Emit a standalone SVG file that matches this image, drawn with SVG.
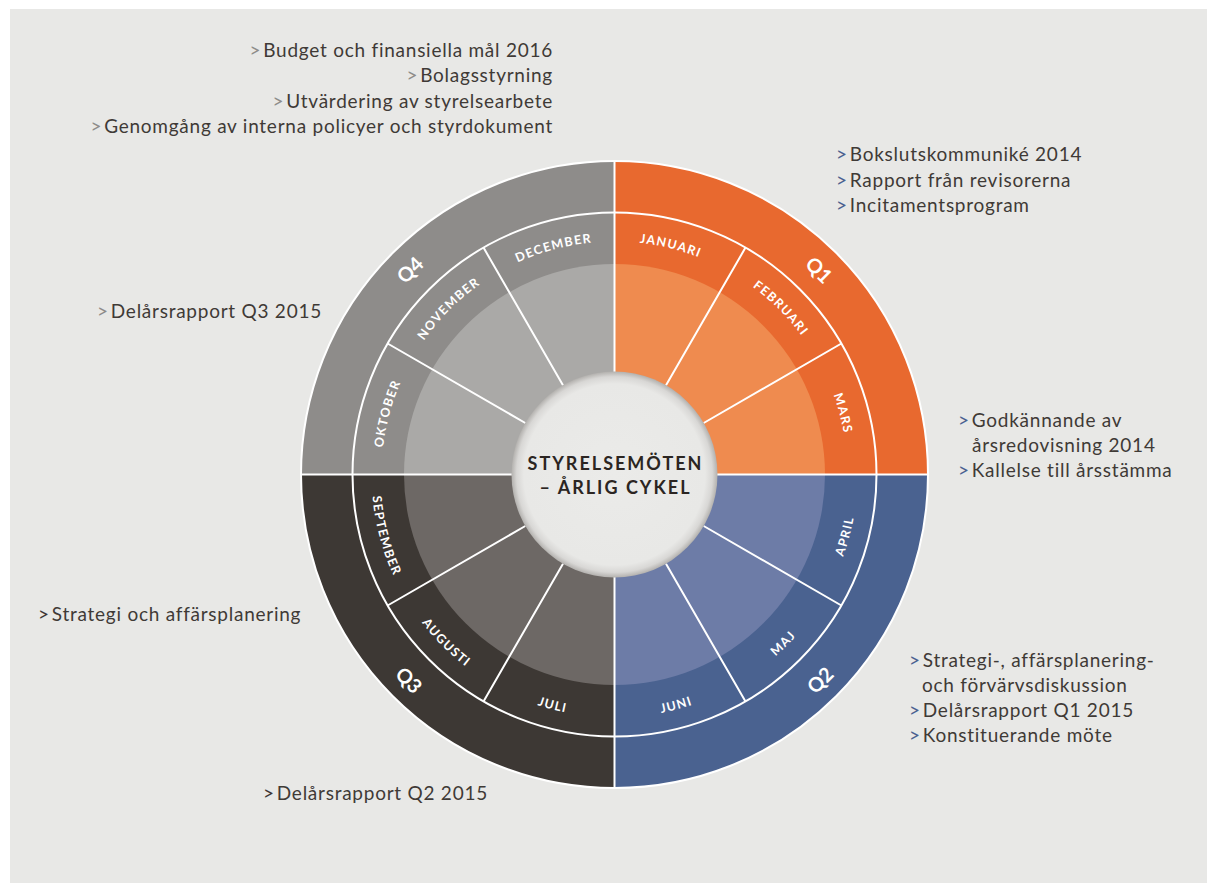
<svg xmlns="http://www.w3.org/2000/svg" width="1209" height="883" viewBox="0 0 1209 883">
<defs>
<style>
.note{font-family:Lato,"Noto Sans",sans-serif;font-size:19px;fill:#3f3a36;letter-spacing:0.75px;}
.bb{fill:#4a6290;}
.bg{fill:#8e8c8a;}
.bd{fill:#3d3834;}
.mon{font-family:Lato,"Noto Sans",sans-serif;font-size:12.5px;font-weight:bold;fill:#ffffff;letter-spacing:1.3px;}
.ql{font-family:Lato,"Noto Sans",sans-serif;font-size:20px;font-weight:bold;fill:#ffffff;}
.ctr{font-family:Lato,"Noto Sans",sans-serif;font-size:18px;font-weight:bold;fill:#2b2522;letter-spacing:2px;}
.div{stroke:#ffffff;stroke-width:2;fill:none;}
</style>
<radialGradient id="hub" cx="0.5" cy="0.5" r="0.5">
<stop offset="0" stop-color="#ebebe9"/>
<stop offset="0.88" stop-color="#e8e8e6"/>
<stop offset="0.95" stop-color="#d8d7d5"/>
<stop offset="1" stop-color="#b3b1ae"/>
</radialGradient>
<path id="pJan" d="M614.5,241.5 A233,233 0 0 1 731,272.72"/>
<path id="pFeb" d="M731,272.72 A233,233 0 0 1 816.28,358"/>
<path id="pMar" d="M816.28,358 A233,233 0 0 1 847.5,474.5"/>
<path id="pOkt" d="M381.5,474.5 A233,233 0 0 1 412.72,358"/>
<path id="pNov" d="M412.72,358 A233,233 0 0 1 498,272.72"/>
<path id="pDec" d="M498,272.72 A233,233 0 0 1 614.5,241.5"/>
<path id="pApr" d="M824.94,596 A243,243 0 0 0 857.5,474.5"/>
<path id="pMaj" d="M736,684.94 A243,243 0 0 0 824.94,596"/>
<path id="pJun" d="M614.5,717.5 A243,243 0 0 0 736,684.94"/>
<path id="pJul" d="M493,684.94 A243,243 0 0 0 614.5,717.5"/>
<path id="pAug" d="M404.06,596 A243,243 0 0 0 493,684.94"/>
<path id="pSep" d="M371.5,474.5 A243,243 0 0 0 404.06,596"/>
</defs>

<rect x="0" y="0" width="1209" height="883" fill="#ffffff"/>
<rect id="panel" x="10" y="9" width="1197" height="874" fill="#e8e8e6"/>

<g id="q1">
<path d="M614.5,474.5 L614.5,161 A313.5,313.5 0 0 1 928,474.5 Z" fill="#e8692f"/>
<path d="M614.5,474.5 L614.5,264 A210.5,210.5 0 0 1 825,474.5 Z" fill="#ef8b4f"/>
<text class="ql" x="819.6" y="269.4" text-anchor="middle" dominant-baseline="central" transform="rotate(45 819.6 269.4)">Q1</text>
</g>
<g id="q2">
<path d="M614.5,474.5 L928,474.5 A313.5,313.5 0 0 1 614.5,788 Z" fill="#4a6290"/>
<path d="M614.5,474.5 L825,474.5 A210.5,210.5 0 0 1 614.5,685 Z" fill="#6d7ca7"/>
<text class="ql" x="819.6" y="679.6" text-anchor="middle" dominant-baseline="central" transform="rotate(-45 819.6 679.6)">Q2</text>
</g>
<g id="q3">
<path d="M614.5,474.5 L614.5,788 A313.5,313.5 0 0 1 301,474.5 Z" fill="#3d3834"/>
<path d="M614.5,474.5 L614.5,685 A210.5,210.5 0 0 1 404,474.5 Z" fill="#6d6865"/>
<text class="ql" x="409.4" y="679.6" text-anchor="middle" dominant-baseline="central" transform="rotate(45 409.4 679.6)">Q3</text>
</g>
<g id="q4">
<path d="M614.5,474.5 L301,474.5 A313.5,313.5 0 0 1 614.5,161 Z" fill="#8e8c8a"/>
<path d="M614.5,474.5 L404,474.5 A210.5,210.5 0 0 1 614.5,264 Z" fill="#aaa9a7"/>
<text class="ql" x="409.4" y="269.4" text-anchor="middle" dominant-baseline="central" transform="rotate(-45 409.4 269.4)">Q4</text>
</g>

<g id="dividers">
<circle class="div" cx="614.5" cy="474.5" r="313.5" stroke-width="1.5"/>
<circle class="div" cx="614.5" cy="474.5" r="262" stroke-width="1.5"/>
<path class="div" d="M614.5,161 V788 M301,474.5 H928"/>
<path class="div" d="M666,385.3 L745.5,247.6 M703.7,423 L841.4,343.5 M703.7,526 L841.4,605.5 M666,563.7 L745.5,701.4 M563,563.7 L483.5,701.4 M525.3,526 L387.6,605.5 M525.3,423 L387.6,343.5 M563,385.3 L483.5,247.6"/>
</g>

<g id="months">
<g id="m-jan"><text class="mon" text-anchor="middle"><textPath href="#pJan" startOffset="46%">JANUARI</textPath></text></g>
<g id="m-feb"><text class="mon" text-anchor="middle"><textPath href="#pFeb" startOffset="50%">FEBRUARI</textPath></text></g>
<g id="m-mar"><text class="mon" text-anchor="middle"><textPath href="#pMar" startOffset="50%">MARS</textPath></text></g>
<g id="m-apr"><text class="mon" text-anchor="middle"><textPath href="#pApr" startOffset="50%">APRIL</textPath></text></g>
<g id="m-maj"><text class="mon" text-anchor="middle"><textPath href="#pMaj" startOffset="50%">MAJ</textPath></text></g>
<g id="m-jun"><text class="mon" text-anchor="middle"><textPath href="#pJun" startOffset="50%">JUNI</textPath></text></g>
<g id="m-jul"><text class="mon" text-anchor="middle"><textPath href="#pJul" startOffset="50%">JULI</textPath></text></g>
<g id="m-aug"><text class="mon" text-anchor="middle"><textPath href="#pAug" startOffset="50%">AUGUSTI</textPath></text></g>
<g id="m-sep"><text class="mon" text-anchor="middle"><textPath href="#pSep" startOffset="50%">SEPTEMBER</textPath></text></g>
<g id="m-okt"><text class="mon" text-anchor="middle"><textPath href="#pOkt" startOffset="50%">OKTOBER</textPath></text></g>
<g id="m-nov"><text class="mon" text-anchor="middle"><textPath href="#pNov" startOffset="50%">NOVEMBER</textPath></text></g>
<g id="m-dec"><text class="mon" text-anchor="middle"><textPath href="#pDec" startOffset="50%">DECEMBER</textPath></text></g>
</g>

<g id="center">
<circle cx="614.5" cy="474.5" r="103" fill="url(#hub)"/>
<text class="ctr" x="615.5" y="469.5" text-anchor="middle">STYRELSEMÖTEN</text>
<text class="ctr" x="615.5" y="493.5" text-anchor="middle">– ÅRLIG CYKEL</text>
</g>

<g id="notes-q4">
<text class="note" x="553" y="57" text-anchor="end"><tspan class="bg">&gt;</tspan><tspan dx="2">Budget och finansiella mål 2016</tspan></text>
<text class="note" x="553" y="82" text-anchor="end"><tspan class="bg">&gt;</tspan><tspan dx="2">Bolagsstyrning</tspan></text>
<text class="note" x="553" y="108" text-anchor="end"><tspan class="bg">&gt;</tspan><tspan dx="2">Utvärdering av styrelsearbete</tspan></text>
<text class="note" x="553" y="133" text-anchor="end"><tspan class="bg">&gt;</tspan><tspan dx="2">Genomgång av interna policyer och styrdokument</tspan></text>
</g>
<g id="notes-q4b">
<text class="note" x="97" y="318"><tspan class="bg">&gt;</tspan><tspan dx="2">Delårsrapport Q3 2015</tspan></text>
</g>
<g id="notes-q1">
<text class="note" x="836" y="161"><tspan class="bb">&gt;</tspan><tspan dx="2">Bokslutskommuniké 2014</tspan></text>
<text class="note" x="836" y="187"><tspan class="bb">&gt;</tspan><tspan dx="2">Rapport från revisorerna</tspan></text>
<text class="note" x="836" y="212"><tspan class="bb">&gt;</tspan><tspan dx="2">Incitamentsprogram</tspan></text>
</g>
<g id="notes-q1b">
<text class="note" x="958" y="427"><tspan class="bb">&gt;</tspan><tspan dx="2">Godkännande av</tspan></text>
<text class="note" x="972" y="452">årsredovisning 2014</text>
<text class="note" x="958" y="477"><tspan class="bb">&gt;</tspan><tspan dx="2">Kallelse till årsstämma</tspan></text>
</g>
<g id="notes-q2">
<text class="note" x="909" y="667"><tspan class="bb">&gt;</tspan><tspan dx="2">Strategi-, affärsplanering-</tspan></text>
<text class="note" x="922" y="692">och förvärvsdiskussion</text>
<text class="note" x="909" y="717"><tspan class="bb">&gt;</tspan><tspan dx="2">Delårsrapport Q1 2015</tspan></text>
<text class="note" x="909" y="742"><tspan class="bb">&gt;</tspan><tspan dx="2">Konstituerande möte</tspan></text>
</g>
<g id="notes-q3">
<text class="note" x="38" y="621"><tspan class="bd">&gt;</tspan><tspan dx="2">Strategi och affärsplanering</tspan></text>
<text class="note" x="263" y="800"><tspan class="bd">&gt;</tspan><tspan dx="2">Delårsrapport Q2 2015</tspan></text>
</g>
</svg>
